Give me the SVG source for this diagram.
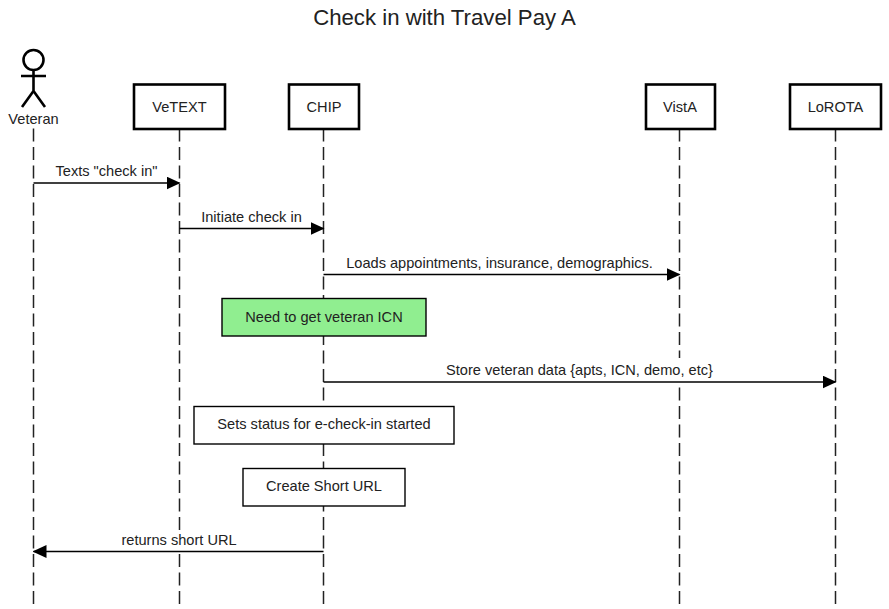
<svg xmlns="http://www.w3.org/2000/svg" width="889" height="609" viewBox="0 0 889 609">
<style>
text{font-family:"Liberation Sans",Arial,sans-serif;font-size:14.6px;fill:#222;text-anchor:middle}
.box{fill:#fff;stroke:#000;stroke-width:2.6}
.note{fill:#fff;stroke:#000;stroke-width:1.4}
.life{stroke:#222;stroke-width:1.5;stroke-dasharray:13 5.500;fill:none}
.msg{stroke:#000;stroke-width:1.5;fill:none;marker-end:url(#a)}
.actor{stroke:#000;stroke-width:2.6;fill:none}
.mask{fill:#fff}
</style>
<defs><marker id="a" markerUnits="userSpaceOnUse" markerWidth="14" markerHeight="13" refX="13" refY="6.500" orient="auto"><path d="M0 0L14 6.500L0 13Z" fill="#000"/></marker></defs>
<rect width="889" height="609" fill="#fff"/>
<text x="444.500" y="25" style="font-size:22.200px">Check in with Travel Pay A</text>
<g id="connectors">
<path class="life" d="M33.500 128.500V609M179.500 128.500V609M323.500 128.500V609M679.500 128.500V609M835.500 128.500V609"/>
<rect class="mask" x="445" y="358" width="270" height="24"/>
<rect class="mask" x="120" y="531" width="118" height="20"/>
<path class="msg" d="M33.500 183H179.500"/>
<path class="msg" d="M179.500 228.500H323.500"/>
<path class="msg" d="M323.500 274.500H679.500"/>
<path class="msg" d="M323.500 382H835.500"/>
<path class="msg" d="M323.500 551.500H33.500"/>
<text x="106.500" y="175.500">Texts "check in"</text>
<text x="251.500" y="221.500">Initiate check in</text>
<text x="499.500" y="267.500">Loads appointments, insurance, demographics.</text>
<text x="579.500" y="374.500">Store veteran data {apts, ICN, demo, etc}</text>
<text x="179" y="544.500">returns short URL</text>
</g>
<g id="veteran"><circle class="actor" cx="33.500" cy="60" r="10"/><path class="actor" d="M33.500 70V91M21 76H46M33.500 91L22 107M33.500 91L45 107"/><text x="33.500" y="124">Veteran</text></g>
<g id="vetext"><rect class="box" x="134" y="84.500" width="91" height="44.500"/><text x="179.500" y="112">VeTEXT</text></g>
<g id="chip"><rect class="box" x="289" y="84.500" width="70" height="44.500"/><text x="324" y="112">CHIP</text></g>
<g id="vista"><rect class="box" x="646" y="84.500" width="69" height="44.500"/><text x="680" y="112">VistA</text></g>
<g id="lorota"><rect class="box" x="790" y="84.500" width="91" height="44.500"/><text x="835.500" y="112">LoROTA</text></g>
<g id="icn"><rect class="note" x="222" y="298.500" width="204" height="37.500" style="fill:#90ee90"/><text x="324" y="322">Need to get veteran ICN</text></g>
<g id="status"><rect class="note" x="194" y="406.500" width="260" height="37.500"/><text x="324" y="429">Sets status for e-check-in started</text></g>
<g id="short"><rect class="note" x="243" y="468.500" width="162" height="37.500"/><text x="324" y="491">Create Short URL</text></g>
</svg>
